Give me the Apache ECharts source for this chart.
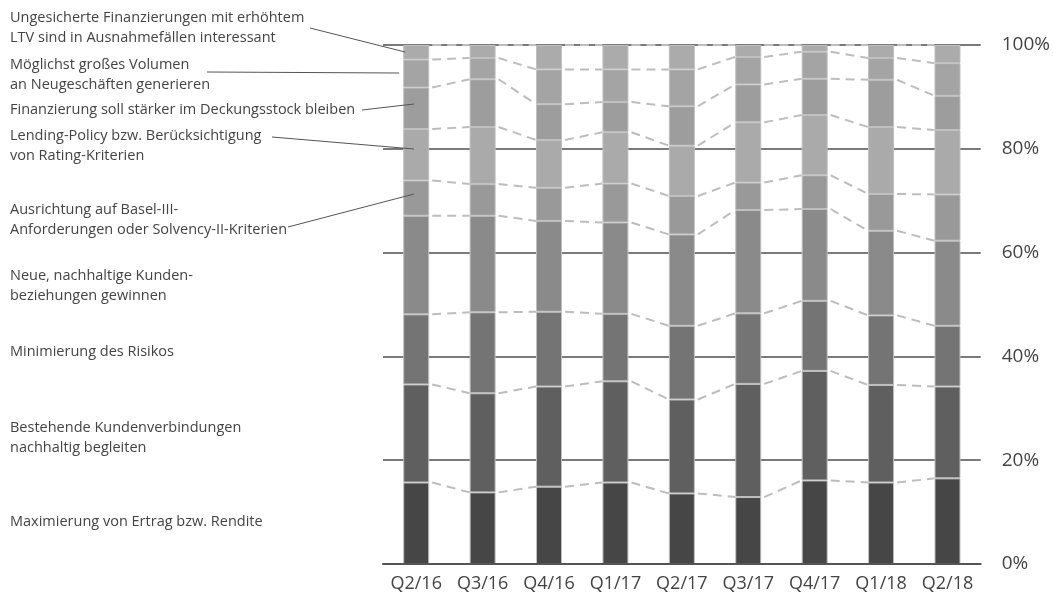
<!DOCTYPE html>
<html>
<head>
<meta charset="utf-8">
<script src="https://cdn.jsdelivr.net/npm/echarts@6/dist/echarts.min.js"></script>
<style>html,body{margin:0;padding:0;background:#fff}#c{width:1053px;height:603px}</style>
</head>
<body>
<div id="c"></div>
<script>
const categories = ['Q2/16','Q3/16','Q4/16','Q1/17','Q2/17','Q3/17','Q4/17','Q1/18','Q2/18'];
const seriesNames = [
  'Maximierung von Ertrag bzw. Rendite',
  'Bestehende Kundenverbindungen nachhaltig begleiten',
  'Minimierung des Risikos',
  'Neue, nachhaltige Kundenbeziehungen gewinnen',
  'Ausrichtung auf Basel-III-Anforderungen oder Solvency-II-Kriterien',
  'Lending-Policy bzw. Berücksichtigung von Rating-Kriterien',
  'Finanzierung soll stärker im Deckungsstock bleiben',
  'Möglichst großes Volumen an Neugeschäften generieren',
  'Ungesicherte Finanzierungen mit erhöhtem LTV sind in Ausnahmefällen interessant'
];
const ertrag      = [15.7, 13.8, 14.9, 15.7, 13.6, 12.9, 16.1, 15.7, 16.5];
const bestehende  = [18.9, 19.1, 19.3, 19.5, 18.1, 21.8, 21.1, 18.8, 17.7];
const risiko      = [13.5, 15.6, 14.4, 13.0, 14.2, 13.6, 13.5, 13.4, 11.7];
const neue        = [19.0, 18.6, 17.5, 17.6, 17.6, 19.9, 17.7, 16.3, 16.4];
const basel       = [6.8, 6.1, 6.4, 7.5, 7.4, 5.3, 6.5, 7.1, 8.9];
const lending     = [9.9, 11.0, 9.2, 9.9, 9.7, 11.6, 11.6, 12.9, 12.4];
const deckung     = [8.0, 9.2, 6.9, 5.8, 7.6, 7.3, 7.0, 9.1, 6.6];
const volumen     = [5.4, 4.1, 6.7, 6.3, 7.1, 5.3, 5.2, 4.2, 6.3];
const ungesichert = [2.8, 2.5, 4.7, 4.7, 4.7, 2.3, 1.3, 2.5, 3.5];
const yTicks = [0, 20, 40, 60, 80, 100];

const allSeries = [ertrag, bestehende, risiko, neue, basel, lending, deckung, volumen, ungesichert];
const colors = ['#464646','#5f5f5f','#747474','#8a8a8a','#989998','#a9aaa9','#9d9d9d','#a4a4a4','#ababab'];

function cumulative(ci) {
  const out = [];
  let s = 0;
  for (const arr of allSeries) { s += arr[ci]; out.push(s); }
  return out;
}

const BAR_W = 26;
const chart = echarts.init(document.getElementById('c'), null, {renderer: 'canvas'});

const barSeries = allSeries.map((arr, k) => ({
  name: seriesNames[k],
  type: 'bar',
  stack: 'total',
  barWidth: BAR_W,
  data: arr,
  z: 3,
  itemStyle: { color: colors[k], borderColor: '#bfbfbf', borderWidth: 1 },
  emphasis: { disabled: true },
  silent: true
}));

const connector = {
  type: 'custom',
  z: 4,
  silent: true,
  data: categories.slice(0, -1).map((c, i) => [i]),
  renderItem: function (params, api) {
    const i = api.value(0);
    const a = cumulative(i), b = cumulative(i + 1);
    const children = [];
    for (let k = 0; k < a.length; k++) {
      const p1 = api.coord([i, a[k]]);
      const p2 = api.coord([i + 1, b[k]]);
      children.push({
        type: 'line',
        shape: { x1: p1[0] + BAR_W / 2 + 3, y1: p1[1], x2: p2[0] - BAR_W / 2, y2: p2[1] },
        style: { stroke: '#bdbdbd', lineWidth: 2, lineDash: [9, 6] }
      });
    }
    return { type: 'group', children: children };
  }
};

const labelFont = '"Open Sans", sans-serif';
const leftLabels = [
  ['Ungesicherte Finanzierungen mit erhöhtem', 17],
  ['LTV sind in Ausnahmefällen interessant', 37],
  ['Möglichst großes Volumen', 64],
  ['an Neugeschäften generieren', 84],
  ['Finanzierung soll stärker im Deckungsstock bleiben', 109],
  ['Lending-Policy bzw. Berücksichtigung', 135],
  ['von Rating-Kriterien', 155],
  ['Ausrichtung auf Basel-III-', 209],
  ['Anforderungen oder Solvency-II-Kriterien', 229],
  ['Neue, nachhaltige Kunden-', 275],
  ['beziehungen gewinnen', 295],
  ['Minimierung des Risikos', 351],
  ['Bestehende Kundenverbindungen', 427],
  ['nachhaltig begleiten', 447],
  ['Maximierung von Ertrag bzw. Rendite', 521]
];
const leaders = [
  [310, 28, 405, 52],
  [207, 72, 399, 73],
  [362, 110, 414, 104],
  [272, 137, 414, 149],
  [288, 227, 414, 194]
];

const graphics = leftLabels.map(([t, y]) => ({
  type: 'text', left: 10, top: y - 7, z: 10, silent: true,
  style: { text: t, fill: '#444', font: '14.5px ' + labelFont, textVerticalAlign: 'top' }
})).concat(leaders.map(([x1, y1, x2, y2]) => ({
  type: 'line', z: 10, silent: true,
  shape: { x1, y1, x2, y2 },
  style: { stroke: '#555', lineWidth: 1 }
})));

chart.setOption({
  animation: false,
  backgroundColor: '#fff',
  grid: { left: 383, right: 71, top: 45, bottom: 39, containLabel: false },
  xAxis: {
    type: 'category',
    data: categories,
    axisTick: { show: false },
    axisLine: { show: true, lineStyle: { color: '#555', width: 2 } },
    axisLabel: { color: '#444', fontSize: 18, fontFamily: labelFont, margin: 11, interval: 0 },
    z: 5
  },
  yAxis: {
    type: 'value',
    position: 'right',
    min: yTicks[0], max: yTicks[yTicks.length - 1], interval: 20,
    axisLine: { show: false },
    axisTick: { show: false },
    axisLabel: { color: '#444', fontSize: 19, fontFamily: labelFont, margin: 21, formatter: '{value}%' },
    splitLine: { show: true, lineStyle: { color: '#7a7a7a', width: 2 } }
  },
  series: barSeries.concat([connector]),
  graphic: graphics
});
</script>
</body>
</html>
